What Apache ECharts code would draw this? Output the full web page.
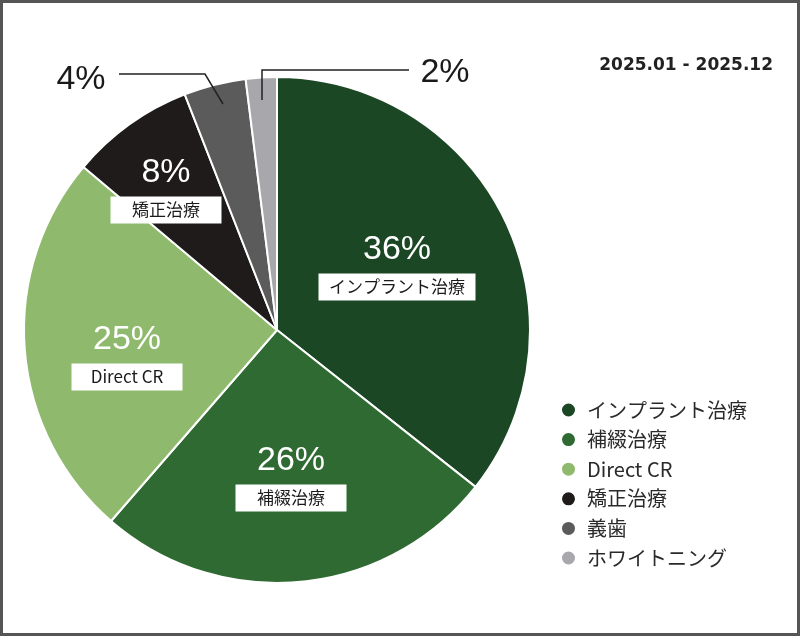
<!DOCTYPE html>
<html>
<head>
<meta charset="utf-8">
<script src="https://cdn.jsdelivr.net/npm/echarts@6/dist/echarts.min.js"></script>
<style>
  html, body { margin: 0; padding: 0; background: #fff; }
  #chart { width: 800px; height: 636px; }
</style>
</head>
<body>
<div id="chart"></div>
<script>
// 治療別の割合 (2025.01 - 2025.12)
const categories = ['インプラント治療', '補綴治療', 'Direct CR', '矯正治療', '義歯', 'ホワイトニング']
const shares = [36, 26, 25, 8, 4, 2]
const period = '2025.01 - 2025.12'

const colors = ['#1b4724', '#2e6a31', '#8fba6e', '#1f1b1b', '#5b5b5b', '#a7a7ac']

// ラベル位置 (index順)
const labelSpots = [
  { x: 397, y: 259 },
  { x: 291, y: 470 },
  { x: 127, y: 349 },
  { x: 166, y: 182 },
  { x: 81, y: 80 },
  { x: 445, y: 73 }
]

let myChart = echarts.init(document.getElementById('chart'))

let pieData = categories.map((name, i) => {
  let item = { name: name, value: shares[i] }
  if (shares[i] < 5) {
    item.label = {
      position: 'outside',
      formatter: '{big|{c}%}'
    }
  }
  return item
})

// 引き出し線 (小さいスライス用)
let leader = (points) => ({
  type: 'polyline',
  shape: { points: points },
  style: { fill: 'none', stroke: '#222', lineWidth: 1.5 },
  z: 50
})

let option = {
  color: colors,
  animation: false,
  graphic: [
    {
      type: 'rect',
      shape: { x: 1.5, y: 1.5, width: 797, height: 633 },
      style: { fill: 'none', stroke: '#555', lineWidth: 3 },
      z: 100
    },
    leader([[119, 74], [205, 74], [223, 104]]),
    leader([[409, 70], [262, 70], [262, 100]])
  ],
  title: {
    text: period,
    right: 22,
    top: 52,
    textStyle: {
      fontFamily: 'DejaVu Sans',
      fontWeight: 'bold',
      fontSize: 17,
      color: '#222'
    }
  },
  legend: {
    orient: 'vertical',
    left: 555,
    top: 395,
    icon: 'circle',
    itemWidth: 15,
    itemHeight: 15,
    itemGap: 9.6,
    data: categories,
    textStyle: {
      fontFamily: 'Noto Sans CJK JP',
      fontSize: 20,
      lineHeight: 20,
      color: '#2a2a2a',
      padding: [0, 0, 0, 6]
    }
  },
  series: [
    {
      type: 'pie',
      center: [277, 330],
      radius: 253,
      startAngle: 90,
      data: pieData,
      itemStyle: {
        borderColor: '#fff',
        borderWidth: 2
      },
      emphasis: { disabled: true },
      label: {
        position: 'inside',
        align: 'center',
        formatter: (params) => {
          let style = params.dataIndex === 0 ? 'wide' : 'box'
          return `{p|${params.value}%}\n{${style}|${params.name}}`
        },
        rich: {
          p: {
            fontFamily: 'Liberation Sans',
            fontSize: 34,
            lineHeight: 56,
            color: '#fff',
            align: 'center'
          },
          box: {
            fontFamily: 'Noto Sans CJK JP',
            fontSize: 17,
            lineHeight: 19,
            color: '#1a1a1a',
            backgroundColor: '#fff',
            width: 95,
            padding: [5, 8],
            align: 'center'
          },
          wide: {
            fontFamily: 'Noto Sans CJK JP',
            fontSize: 17,
            lineHeight: 19,
            color: '#1a1a1a',
            backgroundColor: '#fff',
            width: 141,
            padding: [5, 8],
            align: 'center'
          },
          big: {
            fontFamily: 'Liberation Sans',
            fontSize: 34,
            color: '#1a1a1a'
          }
        }
      },
      labelLine: { show: false },
      labelLayout: (params) => {
        let spot = labelSpots[params.dataIndex]
        return { x: spot.x, y: spot.y, align: 'center', verticalAlign: 'middle' }
      }
    }
  ]
}

myChart.setOption(option)
</script>
</body>
</html>
